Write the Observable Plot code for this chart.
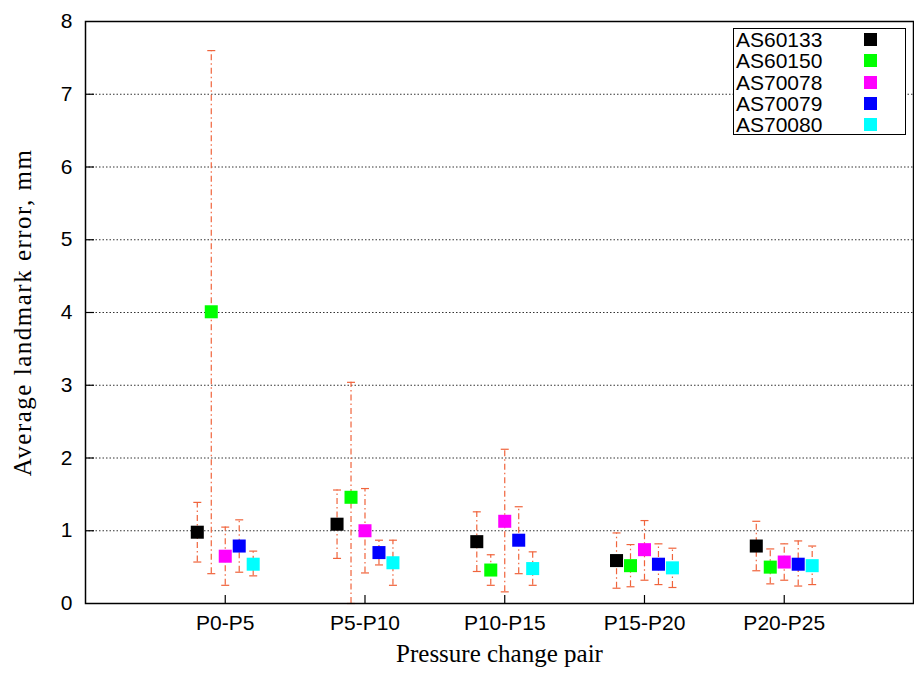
<!DOCTYPE html>
<html>
<head>
<meta charset="utf-8">
<script src="https://cdn.jsdelivr.net/npm/d3@7"></script>
<script src="https://cdn.jsdelivr.net/npm/@observablehq/plot@0.6"></script>
<style>
  html, body { margin: 0; padding: 0; background: #fff; }
  #wrap { position: relative; width: 914px; height: 673px; }
  #chart svg g[aria-label="x-axis label"] text,
  #chart svg g[aria-label="y-axis label"] text {
    font-family: "Liberation Serif", "Times New Roman", serif;
    font-size: 25px;
    fill: #000;
  }
  #chart svg g[aria-label="y-axis label"] text { letter-spacing: 1.5px; }
  #legend {
    position: absolute; left: 733px; top: 28px; width: 173px; height: 107px;
    border: 1.5px solid #000; background: #fff; box-sizing: border-box;
    font-family: "Liberation Sans", Arial, sans-serif; font-size: 21px; color: #000;
  }
  #legend .row { position: absolute; left: 2px; height: 21.3px; line-height: 21.3px; width: 165px; }
  #legend .sw { position: absolute; left: 128px; top: 4px; width: 13px; height: 13px; }
</style>
</head>
<body>
<div id="wrap">
  <div id="chart"></div>
  <div id="legend"></div>
</div>
<script>
// ---- data ----
const groups = ["P0-P5", "P5-P10", "P10-P15", "P15-P20", "P20-P25"];
const series = ["AS60133", "AS60150", "AS70078", "AS70079", "AS70080"];
const colors = ["#000000", "#00ff00", "#ff00ff", "#0000ff", "#00ffff"];
const yTicks = [0, 1, 2, 3, 4, 5, 6, 7, 8];
const gridTicks = [1, 2, 3, 4, 5, 6, 7];

// mean values per series (one per group)
const meanAS60133 = [0.98, 1.09, 0.85, 0.59, 0.79];
const meanAS60150 = [4.01, 1.46, 0.46, 0.52, 0.50];
const meanAS70078 = [0.65, 1.00, 1.13, 0.74, 0.57];
const meanAS70079 = [0.79, 0.70, 0.87, 0.54, 0.54];
const meanAS70080 = [0.54, 0.56, 0.48, 0.49, 0.52];

// error bar lower ends
const loAS60133 = [0.57, 0.62, 0.44, 0.21, 0.45];
const loAS60150 = [0.41, 0.00, 0.25, 0.23, 0.27];
const loAS70078 = [0.25, 0.42, 0.16, 0.32, 0.32];
const loAS70079 = [0.43, 0.53, 0.41, 0.26, 0.24];
const loAS70080 = [0.38, 0.25, 0.25, 0.22, 0.26];

// error bar upper ends
const hiAS60133 = [1.39, 1.56, 1.26, 0.97, 1.13];
const hiAS60150 = [7.60, 3.04, 0.67, 0.81, 0.75];
const hiAS70078 = [1.05, 1.58, 2.12, 1.14, 0.82];
const hiAS70079 = [1.15, 0.87, 1.33, 0.82, 0.86];
const hiAS70080 = [0.72, 0.87, 0.71, 0.76, 0.79];

const means = [meanAS60133, meanAS60150, meanAS70078, meanAS70079, meanAS70080];
const los = [loAS60133, loAS60150, loAS70078, loAS70079, loAS70080];
const his = [hiAS60133, hiAS60150, hiAS70078, hiAS70079, hiAS70080];

// ---- build table ----
const rows = [];
series.forEach((s, si) => {
  groups.forEach((g, gi) => {
    rows.push({
      series: s, group: g,
      x: gi + 1 + (si - 2) * 0.1,
      y: means[si][gi], lo: los[si][gi], hi: his[si][gi]
    });
  });
});

const capSymbol = {
  draw(context, size) {
    const r = Math.sqrt(size / Math.PI);
    context.moveTo(-r, 0);
    context.lineTo(r, 0);
  }
};

const errColor = "#f0643c";
const errDash = "6,3,1.5,3";

const chart = Plot.plot({
  width: 914,
  height: 673,
  marginLeft: 85,
  marginRight: 1,
  marginTop: 21,
  marginBottom: 70,
  style: { fontFamily: "'Liberation Sans', Arial, sans-serif", fontSize: "21px", color: "#000", background: "#fff" },
  x: { domain: [0, 5.925], label: null },
  y: { domain: [0, 8], label: null },
  color: { domain: series, range: colors },
  marks: [
    Plot.gridY(gridTicks, { stroke: "#333", strokeOpacity: 1, strokeDasharray: "1.5,2" }),
    // error bars
    Plot.ruleX(rows, { x: "x", y1: "lo", y2: "hi", stroke: errColor, strokeWidth: 1.2, strokeDasharray: errDash }),
    Plot.dot(rows, { x: "x", y: "lo", symbol: capSymbol, r: 4, stroke: errColor, strokeWidth: 1.2 }),
    Plot.dot(rows, { x: "x", y: "hi", symbol: capSymbol, r: 4, stroke: errColor, strokeWidth: 1.2 }),
    // markers
    Plot.dot(rows, { x: "x", y: "y", symbol: "square", r: 7.35, fill: "series", stroke: null }),
    // axes: labels
    Plot.axisY(yTicks, { tickSize: 0, tickPadding: 13, tickFormat: d => String(d), label: "Average landmark error, mm", labelArrow: "none", labelAnchor: "center", labelOffset: 72, fontSize: 21 }),
    Plot.axisY(yTicks.slice(1, -1), { tickSize: 9, dx: 9, tickFormat: () => "", label: null, strokeWidth: 1.2 }),
    Plot.axisX([1, 2, 3, 4, 5], { tickSize: 0, tickPadding: 12, tickFormat: d => groups[d - 1], label: "Pressure change pair", labelArrow: "none", labelAnchor: "center", labelOffset: 58, fontSize: 21 }),
    Plot.axisX([1, 2, 3, 4, 5], { tickSize: 8, dy: -8, tickFormat: () => "", label: null, strokeWidth: 1.2 }),
    Plot.frame({ stroke: "#000", strokeWidth: 1.5 })
  ]
});
document.getElementById("chart").appendChild(chart);

// legend
const legend = document.getElementById("legend");
series.forEach((s, i) => {
  const row = document.createElement("div");
  row.className = "row";
  row.style.top = (i * 21.3) + "px";
  row.textContent = s;
  const sw = document.createElement("span");
  sw.className = "sw";
  sw.style.background = colors[i];
  row.appendChild(sw);
  legend.appendChild(row);
});
</script>
</body>
</html>
